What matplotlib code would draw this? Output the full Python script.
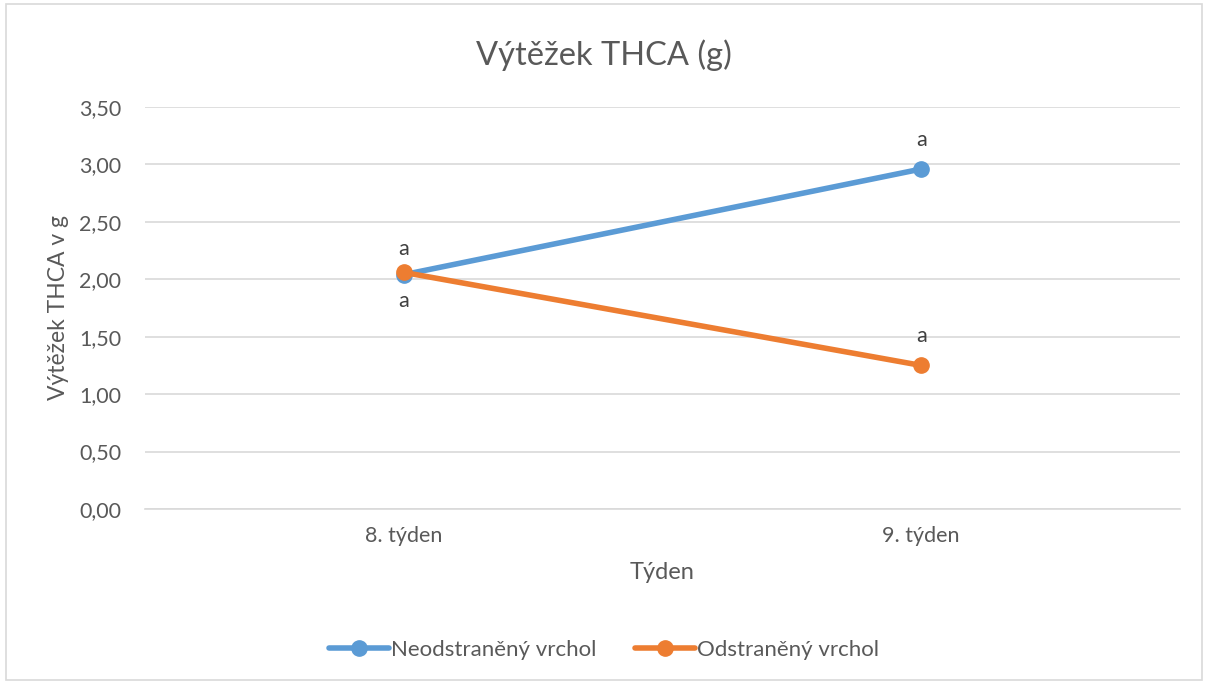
import matplotlib
matplotlib.use("Agg")
import matplotlib.pyplot as plt
from matplotlib.patches import Rectangle

categories = ["8. týden", "9. týden"]
series_names = ["Neodstraněný vrchol", "Odstraněný vrchol"]
neodstraneny = [2.04, 2.96]
odstraneny = [2.06, 1.25]
yticks = [0.0, 0.5, 1.0, 1.5, 2.0, 2.5, 3.0, 3.5]
labels_neo = ["a", "a"]
labels_ods = ["a", "a"]

plt.rcParams['font.family'] = ['Lato', 'DejaVu Sans']
gray = "#595959"
blue = "#5B9BD5"
orange = "#ED7D31"

fig = plt.figure(figsize=(12.08, 6.84), dpi=100)
fig.patches.append(Rectangle((6/1208, 4/684), 1196/1208, 676/684, transform=fig.transFigure,
                             fill=False, edgecolor="#d9d9d9", linewidth=1.2))
ax = fig.add_axes([145/1208, 1 - 509/684, (1180-145)/1208, (509-107)/684])

x = list(range(len(categories)))
ax.plot(x, neodstraneny, color=blue, linewidth=4, marker="o", markersize=11, label=series_names[0], zorder=3,
        solid_capstyle="round")
ax.plot(x, odstraneny, color=orange, linewidth=4, marker="o", markersize=11, label=series_names[1], zorder=4,
        solid_capstyle="round")

lab_fs = 15.5
for i in range(len(categories)):
    if neodstraneny[i] >= odstraneny[i]:
        ax.annotate(labels_neo[i], (x[i], neodstraneny[i]), xytext=(0, 14), textcoords="offset points",
                    ha="center", va="bottom", fontsize=lab_fs, color="#404040")
        ax.annotate(labels_ods[i], (x[i], odstraneny[i]), xytext=(0, 14), textcoords="offset points",
                    ha="center", va="bottom", fontsize=lab_fs, color="#404040")
    else:
        ax.annotate(labels_ods[i], (x[i], odstraneny[i]), xytext=(0, 10), textcoords="offset points",
                    ha="center", va="bottom", fontsize=lab_fs, color="#404040")
        ax.annotate(labels_neo[i], (x[i], neodstraneny[i]), xytext=(0, -12), textcoords="offset points",
                    ha="center", va="top", fontsize=lab_fs, color="#404040")

ax.set_xlim(-0.5, len(categories) - 0.5)
ax.set_ylim(0, 3.5)
ax.set_yticks(yticks)
ax.set_yticklabels([f"{v:.2f}".replace(".", ",") for v in yticks])
ax.set_xticks(x)
ax.set_xticklabels(categories)
ax.grid(axis="y", color="#d9d9d9", linewidth=1.2)
ax.set_axisbelow(True)
for s in ["top", "right", "left"]:
    ax.spines[s].set_visible(False)
ax.spines["bottom"].set_color("#d9d9d9")
ax.spines["bottom"].set_linewidth(1.2)
ax.tick_params(axis="both", length=0, labelsize=15.5, labelcolor=gray)
ax.tick_params(axis="y", pad=17)
ax.tick_params(axis="x", pad=12)

fig.text(0.5, 1 - 55/684, "Výtěžek THCA (g)", fontsize=23.5, color=gray, ha="center", va="center")
ax.set_xlabel("Týden", fontsize=17, color=gray, labelpad=12)
ax.set_ylabel("Výtěžek THCA v g", fontsize=16.5, color=gray, labelpad=7)

fig.legend(loc="center", bbox_to_anchor=(0.5, 1 - 650/684), ncol=2, frameon=False,
           fontsize=16, labelcolor=gray, handlelength=2.7, columnspacing=1.7, handletextpad=0.1)

fig.savefig("out.png", dpi=100)
